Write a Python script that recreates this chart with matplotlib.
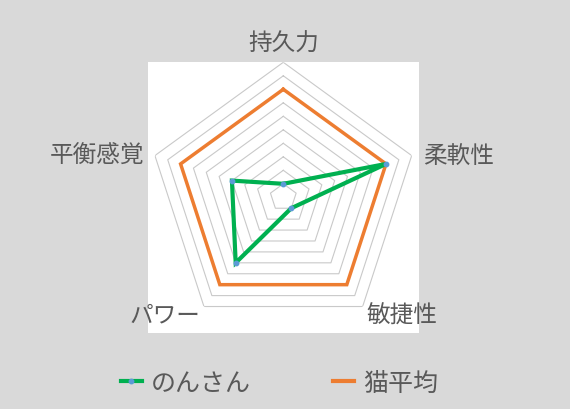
import numpy as np
import matplotlib
matplotlib.use("Agg")
import matplotlib.pyplot as plt
from matplotlib.patches import Rectangle
from matplotlib.lines import Line2D
from matplotlib.transforms import offset_copy

plt.rcParams['font.family'] = ['Noto Sans CJK JP', 'DejaVu Sans']

# data
categories = ['持久力', '柔軟性', '敏捷性', 'パワー', '平衡感覚']
series_names = ['のんさん', '猫平均']
nonsan = [1, 8, 1, 6, 4]
cat_avg = [8, 8, 8, 8, 8]
grid_levels = list(range(1, 11))

TEXT = '#595959'
GREEN = '#00b050'
ORANGE = '#ed7d31'
BLUE = '#5b9bd5'

W, H = 570, 410
fig = plt.figure(figsize=(W / 100, H / 100), dpi=100, facecolor='#d9d9d9')

# white plot area
fig.patches.append(Rectangle((148 / W, 1 - 334 / H), 271 / W, 271 / H,
                             transform=fig.transFigure, facecolor='white',
                             edgecolor='none', zorder=-10))

cx, cy, R = 283.3, 198.3, 135
ax = fig.add_axes([(cx - R) / W, 1 - (cy + R) / H, 2 * R / W, 2 * R / H],
                  projection='polar')
ax.set_zorder(1)
ax.set_theta_offset(np.pi / 2)
ax.set_theta_direction(-1)
ax.patch.set_visible(False)
ax.spines['polar'].set_visible(False)
ax.grid(False)
ax.set_xticks([])
ax.set_yticks([])
ax.set_ylim(0, 10)

n = len(categories)
angles = np.linspace(0, 2 * np.pi, n, endpoint=False)
closed = np.append(angles, angles[0])

# pentagon grid
for lv in grid_levels:
    ax.plot(closed, [lv] * (n + 1), color='#c9c9c9', lw=0.8, zorder=1)

ax.plot(closed, cat_avg + cat_avg[:1], color=ORANGE, lw=2.5, zorder=2,
        solid_joinstyle='miter')
ax.plot(closed, nonsan + nonsan[:1], color=GREEN, lw=3, zorder=3,
        solid_joinstyle='miter')
ax.plot(angles, nonsan, 'o', color=BLUE, ms=3.2, zorder=4)

# category labels (nudged down a few pixels)
label_tr = offset_copy(ax.transData, fig=fig, y=-3, units='dots')
label_pos = [
    (11.65, 'center', 'center'),
    (10.85, 'left', 'center'),
    (10.5, 'left', 'center'),
    (10.5, 'right', 'center'),
    (10.85, 'right', 'center'),
]
for ang, name, (r, ha, va) in zip(angles, categories, label_pos):
    ax.text(ang, r, name, ha=ha, va=va, fontsize=17, color=TEXT,
            clip_on=False, transform=label_tr)

handles = [
    Line2D([], [], color=GREEN, lw=3, marker='o', ms=3.2,
           markerfacecolor=BLUE, markeredgecolor=BLUE),
    Line2D([], [], color=ORANGE, lw=3),
]
fig.legend(handles, series_names, loc='center', bbox_to_anchor=(0.49, 1 - 384 / H),
           ncol=2, frameon=False, fontsize=18, labelcolor=TEXT,
           handlelength=0.85, handletextpad=0.35, columnspacing=3.3)

fig.savefig('out.png', dpi=100, facecolor=fig.get_facecolor())
